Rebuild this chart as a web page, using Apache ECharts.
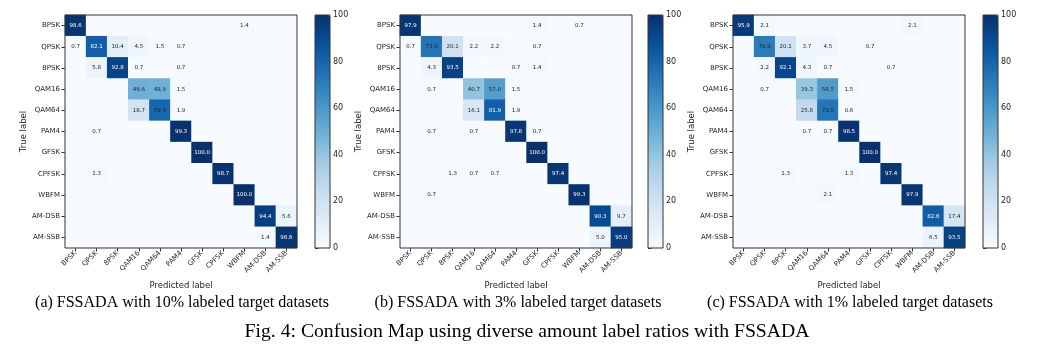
<!DOCTYPE html>
<html>
<head>
<meta charset="utf-8">
<script src="https://cdn.jsdelivr.net/npm/echarts@6/dist/echarts.min.js"></script>
<style>
html,body{margin:0;padding:0;background:#fff;}
#chart{width:1053px;height:359px;}
</style>
</head>
<body>
<div id="chart"></div>
<script>
const classes = ['BPSK','QPSK','8PSK','QAM16','QAM64','PAM4','GFSK','CPFSK','WBFM','AM-DSB','AM-SSB'];
const colorbarTicks = [0,20,40,60,80,100];

// rows = true label, columns = predicted label (percent)
const matrix10 = [
  [98.6,0,0,0,0,0,0,0,1.4,0,0],
  [0.7,82.1,10.4,4.5,1.5,0.7,0,0,0,0,0],
  [0,5.8,92.8,0.7,0,0.7,0,0,0,0,0],
  [0,0,0,49.6,48.9,1.5,0,0,0,0,0],
  [0,0,0,18.7,79.4,1.9,0,0,0,0,0],
  [0,0.7,0,0,0,99.3,0,0,0,0,0],
  [0,0,0,0,0,0,100.0,0,0,0,0],
  [0,1.3,0,0,0,0,0,98.7,0,0,0],
  [0,0,0,0,0,0,0,0,100.0,0,0],
  [0,0,0,0,0,0,0,0,0,94.4,5.6],
  [0,0,0,0,0,0,0,0,0,1.4,98.6]
];
const matrix3 = [
  [97.9,0,0,0,0,0,1.4,0,0.7,0,0],
  [0.7,73.9,20.1,2.2,2.2,0,0.7,0,0,0,0],
  [0,4.3,93.5,0,0,0.7,1.4,0,0,0,0],
  [0,0.7,0,40.7,57.0,1.5,0,0,0,0,0],
  [0,0,0,16.1,81.9,1.9,0,0,0,0,0],
  [0,0.7,0,0.7,0,97.8,0.7,0,0,0,0],
  [0,0,0,0,0,0,100.0,0,0,0,0],
  [0,0,1.3,0.7,0.7,0,0,97.4,0,0,0],
  [0,0.7,0,0,0,0,0,0,99.3,0,0],
  [0,0,0,0,0,0,0,0,0,90.3,9.7],
  [0,0,0,0,0,0,0,0,0,5.0,95.0]
];
const matrix1 = [
  [95.9,2.1,0,0,0,0,0,0,2.1,0,0],
  [0,70.9,20.1,3.7,4.5,0,0.7,0,0,0,0],
  [0,2.2,92.1,4.3,0.7,0,0,0.7,0,0,0],
  [0,0.7,0,39.3,58.5,1.5,0,0,0,0,0],
  [0,0,0,25.8,73.5,0.6,0,0,0,0,0],
  [0,0,0,0.7,0.7,98.5,0,0,0,0,0],
  [0,0,0,0,0,0,100.0,0,0,0,0],
  [0,0,1.3,0,0,1.3,0,97.4,0,0,0],
  [0,0,0,0,2.1,0,0,0,97.9,0,0],
  [0,0,0,0,0,0,0,0,0,82.6,17.4],
  [0,0,0,0,0,0,0,0,0,6.5,93.5]
];
const subCaptions = ['(a) FSSADA with 10% labeled target datasets','(b) FSSADA with 3% labeled target datasets','(c) FSSADA with 1% labeled target datasets'];
const figCaption = 'Fig. 4: Confusion Map using diverse amount label ratios with FSSADA';

const matrices = [matrix10, matrix3, matrix1];
const blues = ['#f7fbff','#deebf7','#c6dbef','#9ecae1','#6baed6','#4292c6','#2171b5','#08519c','#08306b'];

const panelLeft = [65, 400, 733];
const cbLeft = [315, 648, 983];
const capX = [182, 518, 850];
const plotTop = 15, plotH = 233, plotW = 232;
const tickColor = '#262626';
const axisFont = 'DejaVu Sans';

const grids = [], xAxes = [], yAxes = [], series = [], visualMaps = [], graphics = [];
matrices.forEach((m, p) => {
  grids.push({left: panelLeft[p], top: plotTop, width: plotW, height: plotH, show: true, z: 3,
    backgroundColor: 'transparent', borderColor: '#333', borderWidth: 1});
  grids.push({left: cbLeft[p], top: plotTop, width: 15, height: plotH, show: true, z: 6,
    backgroundColor: 'transparent', borderColor: '#333', borderWidth: 1});
  const gi = p * 2;
  xAxes.push({type: 'category', gridIndex: gi, data: classes,
    axisLine: {show: false}, axisTick: {show: true, alignWithLabel: true, length: 3.5, lineStyle: {color: '#333'}},
    axisLabel: {rotate: 45, fontSize: 7, color: tickColor, fontFamily: axisFont, margin: 4, interval: 0},
    name: 'Predicted label', nameLocation: 'middle', nameGap: 33,
    nameTextStyle: {fontSize: 8.5, color: tickColor, fontFamily: axisFont},
    splitLine: {show: false}});
  yAxes.push({type: 'category', gridIndex: gi, data: classes, inverse: true,
    axisLine: {show: false}, axisTick: {show: true, alignWithLabel: true, length: 3.5, lineStyle: {color: '#333'}},
    axisLabel: {fontSize: 7, color: tickColor, fontFamily: axisFont, margin: 5, interval: 0},
    name: 'True label', nameLocation: 'middle', nameGap: 35, nameRotate: 90,
    nameTextStyle: {fontSize: 8.5, color: tickColor, fontFamily: axisFont},
    splitLine: {show: false}});
  xAxes.push({type: 'value', gridIndex: gi + 1, show: false, min: 0, max: 1});
  yAxes.push({type: 'value', gridIndex: gi + 1, position: 'right', min: colorbarTicks[0],
    max: colorbarTicks[colorbarTicks.length - 1], interval: colorbarTicks[1] - colorbarTicks[0],
    axisLine: {show: false}, splitLine: {show: false},
    axisTick: {show: true, length: 3.5, lineStyle: {color: '#333'}},
    axisLabel: {fontSize: 8, color: tickColor, fontFamily: axisFont, margin: 3}});
  const data = [];
  m.forEach((row, r) => row.forEach((v, c) => data.push([c, r, v])));
  series.push({type: 'heatmap', xAxisIndex: gi, yAxisIndex: gi, data: data,
    label: {show: true, fontSize: 5.5, fontFamily: axisFont,
      formatter: (pr) => {
        const v = pr.value[2];
        if (!v) return '';
        return (v >= 80 ? '{w|' : '{b|') + v.toFixed(1) + '}';
      },
      rich: {w: {color: '#ffffff', fontSize: 5.5, fontFamily: axisFont}, b: {color: '#262626', fontSize: 5.5, fontFamily: axisFont}}},
    emphasis: {disabled: true}, itemStyle: {borderWidth: 0}});
  visualMaps.push({type: 'continuous', seriesIndex: p, min: 0, max: 100, calculable: false,
    left: cbLeft[p], top: plotTop, itemWidth: 15, itemHeight: plotH, padding: 0, text: null,
    showLabel: false, inRange: {color: blues}, hoverLink: false, z: 4});
  graphics.push({type: 'text', x: capX[p], y: 303, style: {text: subCaptions[p], font: '16px "Liberation Serif"', fill: '#000',
    textAlign: 'center', textVerticalAlign: 'middle'}});
});
graphics.push({type: 'text', x: 527, y: 332, style: {text: figCaption, font: '19.7px "Liberation Serif"', fill: '#000',
  textAlign: 'center', textVerticalAlign: 'middle'}});

const chart = echarts.init(document.getElementById('chart'), null, {renderer: 'canvas'});
chart.setOption({
  animation: false,
  backgroundColor: '#ffffff',
  grid: grids, xAxis: xAxes, yAxis: yAxes, series: series, visualMap: visualMaps, graphic: graphics
});
</script>
</body>
</html>
